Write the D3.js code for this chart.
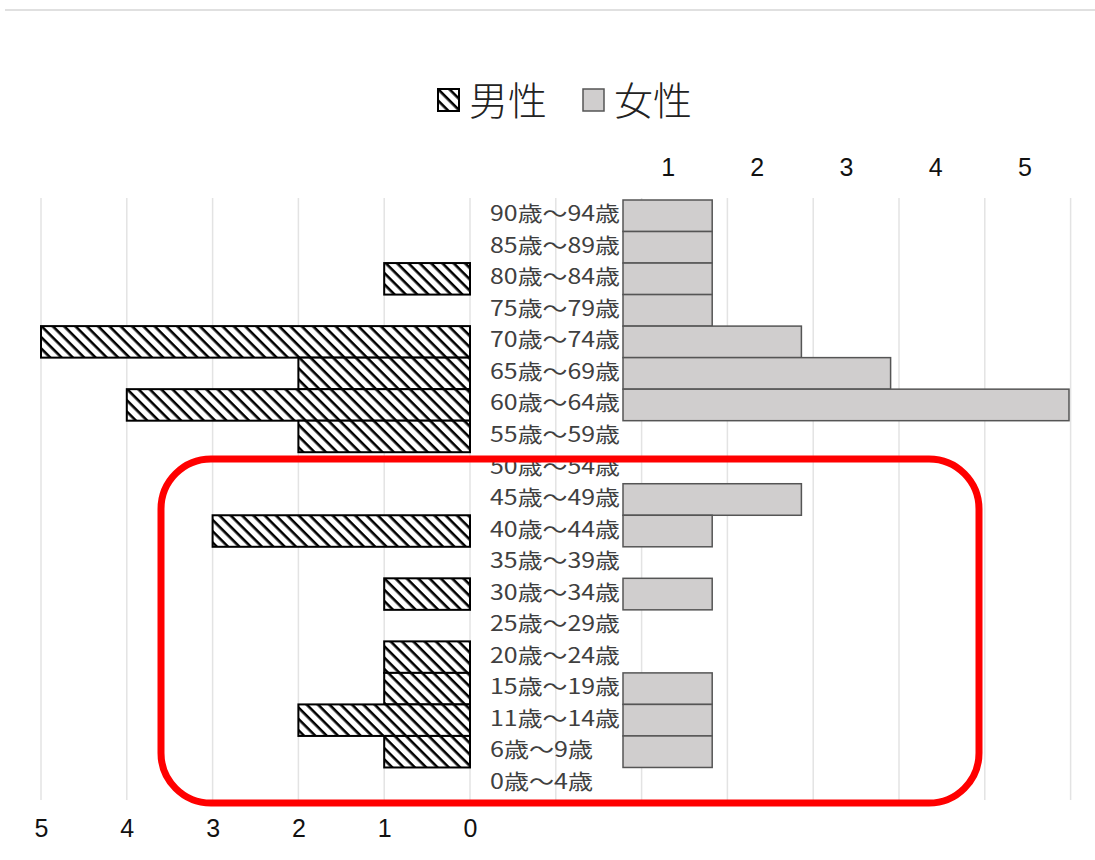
<!DOCTYPE html>
<meta charset="utf-8">
<style>
  body { margin: 0; background: #fff; }
  svg { display: block; }
</style>
<svg width="1095" height="860"></svg>
<script src="https://d3js.org/d3.v7.min.js"></script>
<script>

// age groups, top to bottom
var ages = ['90歳～94歳', '85歳～89歳', '80歳～84歳', '75歳～79歳', '70歳～74歳',
            '65歳～69歳', '60歳～64歳', '55歳～59歳', '50歳～54歳', '45歳～49歳',
            '40歳～44歳', '35歳～39歳', '30歳～34歳', '25歳～29歳', '20歳～24歳',
            '15歳～19歳', '11歳～14歳', '6歳～9歳', '0歳～4歳'];
var male   = [0, 0, 1, 0, 5, 2, 4, 2, 0, 0, 3, 0, 1, 0, 1, 1, 2, 1, 0];
var female = [1, 1, 1, 1, 2, 3, 5, 0, 0, 2, 1, 0, 1, 0, 0, 1, 1, 1, 0];
var ticks  = [0, 1, 2, 3, 4, 5];
var legendNames = ['男性', '女性'];

var svg = d3.select('svg');

var labelFont = '"Noto Sans CJK JP", sans-serif';
var tickFont = '"Liberation Sans", Arial, sans-serif';

// header rule
svg.append('line')
  .attr('x1', 5).attr('x2', 1095)
  .attr('y1', 10).attr('y2', 10)
  .attr('stroke', '#e0e0e0')
  .attr('stroke-width', 2);

var defs = svg.append('defs');
var hatch = defs.append('pattern')
  .attr('id', 'hatch')
  .attr('patternUnits', 'userSpaceOnUse')
  .attr('width', 8).attr('height', 8)
  .attr('patternTransform', 'rotate(45)');
hatch.append('rect').attr('width', 8).attr('height', 8).attr('fill', '#fff');
hatch.append('rect').attr('width', 8).attr('height', 2.6).attr('fill', '#000');

var y = d3.scaleBand()
  .domain(ages)
  .range([200, 799])
  .padding(0);

var xm = d3.scaleLinear().domain([0, 5]).range([470, 41]);   // male, grows left
var xf = d3.scaleLinear().domain([0, 5]).range([623, 1069]); // female, grows right
var unitF = xf(1) - xf(0);

// gridlines (these run across the whole width at the male spacing)
var gridVals = d3.range(-7, 6);
svg.append('g')
  .selectAll('line')
  .data(gridVals)
  .enter().append('line')
  .attr('x1', function(d){ return xm(d); })
  .attr('x2', function(d){ return xm(d); })
  .attr('y1', 198).attr('y2', 800)
  .attr('stroke', '#e3e3e3')
  .attr('stroke-width', 1.5);

// male bars
svg.append('g')
  .selectAll('rect')
  .data(ages.map(function(a, i){ return {age: a, v: male[i]}; }).filter(function(d){ return d.v > 0; }))
  .enter().append('rect')
  .attr('x', function(d){ return xm(d.v); })
  .attr('y', function(d){ return y(d.age); })
  .attr('width', function(d){ return xm(0) - xm(d.v); })
  .attr('height', y.bandwidth())
  .attr('fill', 'url(#hatch)')
  .attr('stroke', '#000')
  .attr('stroke-width', 2);

// female bars
svg.append('g')
  .selectAll('rect')
  .data(ages.map(function(a, i){ return {age: a, v: female[i]}; }).filter(function(d){ return d.v > 0; }))
  .enter().append('rect')
  .attr('x', xf(0))
  .attr('y', function(d){ return y(d.age); })
  .attr('width', function(d){ return xf(d.v) - xf(0); })
  .attr('height', y.bandwidth())
  .attr('fill', '#d0cece')
  .attr('stroke', '#555')
  .attr('stroke-width', 1.5);

// age labels
svg.append('g')
  .selectAll('text')
  .data(ages)
  .enter().append('text')
  .attr('x', 490)
  .attr('y', function(d){ return y(d) + y.bandwidth() / 2 - 2; })
  .attr('dy', '0.36em')
  .attr('font-family', labelFont)
  .attr('font-size', 21)
  .attr('fill', '#404040')
  .attr('textLength', function(d){ return d.length === 7 ? 130 : 103; })
  .attr('lengthAdjust', 'spacingAndGlyphs')
  .text(function(d){ return d; });

// male axis at the bottom
var axM = svg.append('g')
  .attr('transform', 'translate(0,800)')
  .call(d3.axisBottom(xm).tickValues(ticks).tickFormat(d3.format('d')).tickSize(0).tickPadding(19));
axM.select('.domain').remove();
axM.selectAll('text')
  .attr('font-family', tickFont)
  .attr('font-size', 25)
  .attr('fill', '#111');

// female axis at the top, labels sit half a unit left of their value
var axF = svg.append('g')
  .attr('transform', 'translate(' + (-unitF / 2) + ',176)')
  .call(d3.axisTop(xf).tickValues(ticks.slice(1)).tickFormat(d3.format('d')).tickSize(0).tickPadding(0));
axF.select('.domain').remove();
axF.selectAll('text')
  .attr('font-family', tickFont)
  .attr('font-size', 25)
  .attr('fill', '#111');

// legend
var legend = svg.append('g');
legend.append('rect')
  .attr('x', 438).attr('y', 89).attr('width', 21).attr('height', 22)
  .attr('fill', 'url(#hatch)')
  .attr('stroke', '#000').attr('stroke-width', 2);
legend.append('rect')
  .attr('x', 583).attr('y', 89).attr('width', 21).attr('height', 22)
  .attr('fill', '#d0cece')
  .attr('stroke', '#555').attr('stroke-width', 1.5);
legend.selectAll('text')
  .data(legendNames)
  .enter().append('text')
  .attr('x', function(d, i){ return i === 0 ? 469 : 614; })
  .attr('y', 115)
  .attr('font-family', labelFont)
  .attr('font-size', 39)
  .attr('font-weight', 300)
  .attr('fill', '#222')
  .text(function(d){ return d; });

// red highlight box
svg.append('rect')
  .attr('x', 161).attr('y', 459)
  .attr('width', 818).attr('height', 344)
  .attr('rx', 50).attr('ry', 50)
  .attr('fill', 'none')
  .attr('stroke', '#ff0000')
  .attr('stroke-width', 7);

</script>
